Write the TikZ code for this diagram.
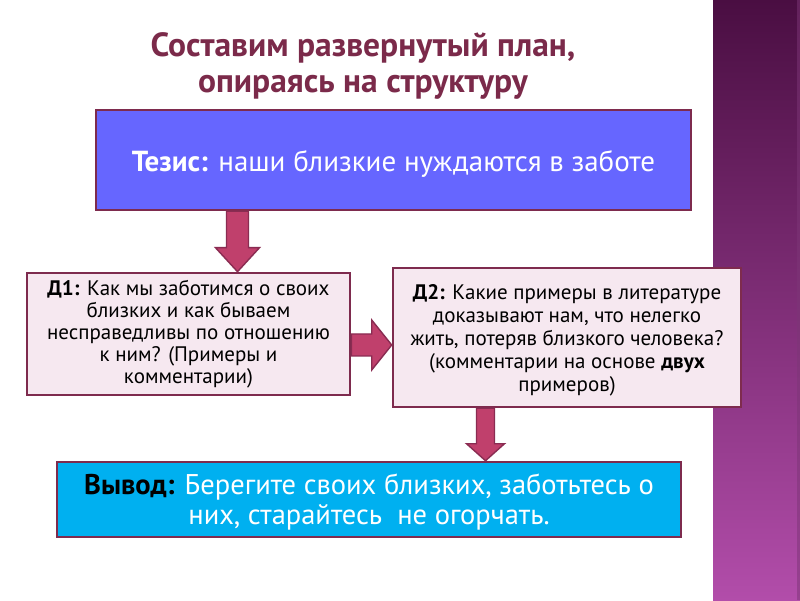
\documentclass[tikz,border=0pt]{standalone}
\usepackage{fontspec}
\setmainfont{PT Sans}
\usetikzlibrary{calc}
\definecolor{maroon}{HTML}{7E2B4E}
\definecolor{titlecol}{HTML}{7B2A4A}
\definecolor{thfill}{HTML}{6666FF}
\definecolor{dfill}{HTML}{F6E8F0}
\definecolor{arrfill}{HTML}{C0406C}
\definecolor{arrdraw}{HTML}{8A2C52}
\definecolor{cyanfill}{HTML}{00B0F0}
\definecolor{stripetop}{HTML}{4A0E42}
\definecolor{stripebot}{HTML}{B24DAA}
\newcommand{\lowr}[2]{\raisebox{-#1}[\height][\depth]{#2}}
\tikzset{
  box/.style={draw=maroon, line width=2.6pt, rectangle, align=center, inner sep=0pt},
  barrow/.style={fill=arrfill, draw=arrdraw, line width=1.4pt, line join=miter},
}
\begin{document}
\begin{tikzpicture}[x=1pt,y=1pt]
\useasboundingbox (0,0) rectangle (800,600);
\fill[white] (0,0) rectangle (800,600);
% right stripe
\shade[top color=stripetop, bottom color=stripebot] (713,0) rectangle (800,600);
\fill[stripebot!70!black, opacity=0.5] (797,0) rectangle (800,600);
% title
\node[font=\bfseries\fontsize{33.5}{36}\selectfont, text=titlecol, align=center] (title) at (363,534)
  {Составим развернутый план,\\опираясь на структуру};
% thesis
\node[box, line width=2.2pt, fill=thfill, minimum width=595pt, minimum height=100pt,
      text=white, font=\fontsize{29}{30}\selectfont] (th) at (393.5,440)
  {\lowr{4pt}{\textbf{Тезис:} наши близкие нуждаются в заботе}};
% D1
\node[box, fill=dfill, minimum width=323pt, minimum height=122pt,
      font=\fontsize{21}{22}\selectfont] (d1) at (188.5,266)
  {\textbf{Д1:} Как мы заботимся о своих\\близких и как бываем\\несправедливы по отношению\\к ним? (Примеры и\\комментарии)};
% D2
\node[box, fill=dfill, minimum width=348pt, minimum height=139pt,
      font=\fontsize{21}{23}\selectfont] (d2) at (567,262.5)
  {\lowr{3pt}{\textbf{Д2:} Какие примеры в литературе}\\\lowr{3pt}{доказывают нам, что нелегко}\\\lowr{3pt}{жить, потеряв близкого человека?}\\\lowr{3pt}{(комментарии на основе \textbf{двух}}\\\lowr{3pt}{примеров)}};
% conclusion
\node[box, fill=cyanfill, minimum width=624pt, minimum height=75pt,
      text=white, font=\fontsize{28.5}{30}\selectfont] (cc) at (369,100.5)
  {\lowr{3pt}{\textcolor{black}{\textbf{Вывод:}} Берегите своих близких, заботьтесь о}\\\lowr{3pt}{них, старайтесь\ \ не огорчать.}};
% arrow thesis -> D1
\draw[barrow] let \p1=(th.south), \p2=(d1.north) in
  (226.5,\y1) -- (248.5,\y1) -- (248.5,\y2+24) -- (259.5,\y2+24) -- (237.5,\y2)
  -- (215.5,\y2+24) -- (226.5,\y2+24) -- cycle;
% arrow D1 -> D2
\draw[barrow] let \p1=(d1.east), \p2=(d2.west) in
  (\x1,266) -- (\x2-20,266) -- (\x2-20,280) -- (\x2,255) -- (\x2-20,230)
  -- (\x2-20,244) -- (\x1,244) -- cycle;
% arrow D2 -> conclusion
\draw[barrow] let \p1=(d2.south), \p2=(cc.north) in
  (476.5,\y1) -- (494.5,\y1) -- (494.5,\y2+17) -- (504.5,\y2+17) -- (485.5,\y2)
  -- (466.5,\y2+17) -- (476.5,\y2+17) -- cycle;
\end{tikzpicture}
\end{document}
